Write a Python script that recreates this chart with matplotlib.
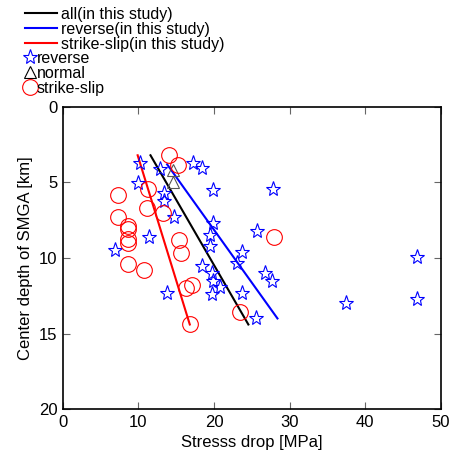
import matplotlib
matplotlib.use('Agg')
import matplotlib.pyplot as plt
from matplotlib.lines import Line2D

plt.rcParams['font.family'] = ['Liberation Sans', 'DejaVu Sans']

# reverse events (stress drop [MPa], depth [km])
rev_x = [10.2, 9.9, 12.9, 13.4, 13.4, 14.7, 11.4, 6.9, 13.8, 17.2, 18.4, 19.9,
         27.8, 19.9, 19.5, 19.5, 25.7, 23.7, 23.1, 18.4, 19.7, 19.9, 20.8, 19.7,
         23.7, 26.8, 27.7, 25.5, 37.5, 46.9, 46.9]
rev_y = [3.7, 5.05, 4.1, 5.7, 6.2, 7.3, 8.6, 9.5, 12.3, 3.7, 4.05, 5.5,
         5.4, 7.7, 8.5, 9.2, 8.2, 9.6, 10.3, 10.5, 11.0, 11.5, 11.9, 12.4,
         12.3, 11.0, 11.5, 14.0, 13.0, 9.9, 12.7]

# normal events
nor_x = [14.6, 14.6]
nor_y = [4.2, 4.95]

# strike-slip events
ss_x = [14.0, 15.3, 7.3, 11.3, 11.2, 13.3, 7.3, 8.6, 8.6, 8.6, 8.6, 8.6,
        10.7, 15.4, 15.6, 16.3, 17.1, 16.8, 27.9, 23.4]
ss_y = [3.2, 3.85, 5.8, 5.45, 6.7, 7.0, 7.3, 7.9, 8.1, 8.75, 9.0, 10.4,
        10.8, 8.8, 9.65, 12.0, 11.8, 14.4, 8.6, 13.6]

# regression lines (end points)
all_x = [11.6, 24.55]
all_y = [3.2, 14.4]
rev_fit_x = [13.8, 28.4]
rev_fit_y = [3.8, 14.0]
ss_fit_x = [9.9, 16.8]
ss_fit_y = [3.2, 14.4]

fig = plt.figure(figsize=(4.52, 4.67), dpi=100, facecolor='white')
ax = fig.add_axes([0.139, 0.124, 0.836, 0.647])

ax.plot(all_x, all_y, color='black', lw=1.5)
ax.plot(rev_fit_x, rev_fit_y, color='blue', lw=1.5)
ax.plot(ss_fit_x, ss_fit_y, color='red', lw=1.5)

ax.plot(rev_x, rev_y, ls='none', marker='*', ms=11, mfc='none', mec='blue', mew=0.8)
ax.plot(nor_x, nor_y, ls='none', marker='^', ms=9, mfc='none', mec='#555555', mew=0.8)
ax.plot(ss_x, ss_y, ls='none', marker='o', ms=11.3, mfc='none', mec='red', mew=0.8)

ax.set_xlim(0, 50)
ax.set_ylim(20, 0)
ax.set_xticks([0, 10, 20, 30, 40, 50])
ax.set_yticks([0, 5, 10, 15, 20])
ax.tick_params(direction='in', length=5, width=0.8, color='#666666', labelsize=12,
               top=True, right=True, pad=4)
for s in ax.spines.values():
    s.set_linewidth(1.2)
ax.set_xlabel('Stresss drop [MPa]', fontsize=12)
ax.set_ylabel('Center depth of SMGA [km]', fontsize=12)

line_handles = [Line2D([], [], color='black', lw=1.5),
                Line2D([], [], color='blue', lw=1.5),
                Line2D([], [], color='red', lw=1.5)]
fig.legend(line_handles,
           ['all(in this study)', 'reverse(in this study)', 'strike-slip(in this study)'],
           loc='upper left', bbox_to_anchor=(0.03, 1.01), frameon=False,
           fontsize=11.5, handlelength=2.0, handletextpad=0.25, labelspacing=0.0,
           borderpad=0.2)
mark_handles = [Line2D([], [], ls='none', marker='*', ms=11, mfc='none', mec='blue', mew=0.8),
                Line2D([], [], ls='none', marker='^', ms=9, mfc='none', mec='black', mew=0.8),
                Line2D([], [], ls='none', marker='o', ms=11.3, mfc='none', mec='red', mew=0.8)]
fig.legend(mark_handles, ['reverse', 'normal', 'strike-slip'],
           loc='upper left', bbox_to_anchor=(0.03, 0.915), frameon=False,
           fontsize=11.5, handlelength=0.7, handletextpad=0.05, labelspacing=0.0,
           borderpad=0.2)

plt.savefig('out.png', dpi=100)
